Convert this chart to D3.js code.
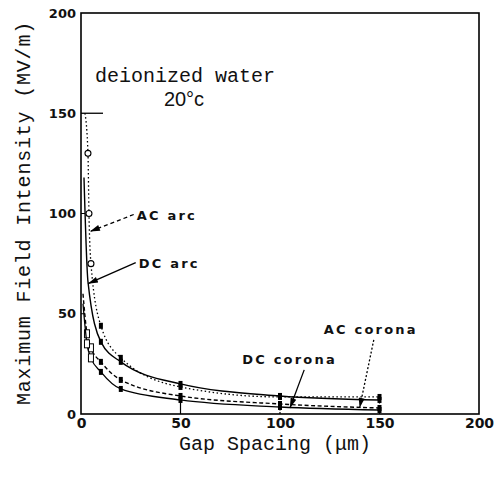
<!DOCTYPE html>
<html><head><meta charset="utf-8">
<script src="https://cdn.jsdelivr.net/npm/d3@7"></script>
<style>body{margin:0;background:#fff}svg{display:block}</style>
</head><body>
<script>
// ---- data ----
const xTicks = [0, 50, 100, 150, 200];
const yTicks = [0, 50, 100, 150, 200];
const acArcX = [2, 3.5, 4, 5, 10, 20, 50, 100, 150];
const acArcY = [150, 130, 100, 75, 44, 28, 13.5, 8.5, 8.5];
const dcArcX = [1.5, 3.5, 10, 20, 50, 100, 150];
const dcArcY = [118, 66, 36, 26, 15, 9, 7];
const acCoronaX = [1, 3, 5, 10, 20, 50, 100, 150];
const acCoronaY = [60, 40, 33, 26, 17, 9, 5, 3];
const dcCoronaX = [1, 3, 5, 10, 20, 50, 100, 150];
const dcCoronaY = [55, 35, 28, 21, 12.5, 7, 3.5, 2];
const seriesNames = ["AC arc", "DC arc", "AC corona", "DC corona"];
const labelX = [28, 29, 122, 81];
const labelY = [97, 73, 40, 25];
const arrowTipX = [4.5, 3.5, 140, 105];
const arrowTipY = [91, 65, 3, 3];

const W = 502, H = 481;
const svg = d3.select("body").append("svg").attr("width", W).attr("height", H);
const x = d3.scaleLinear().domain([0, 200]).range([81, 479]);
const y = d3.scaleLinear().domain([0, 200]).range([414, 13]);

const series = [
  {xs: acArcX, ys: acArcY, dash: "1.5,2.5", w: 1.3, open: "circle", openN: 4},
  {xs: dcArcX, ys: dcArcY, dash: null, w: 1.4, open: "none", openN: 2},
  {xs: acCoronaX, ys: acCoronaY, dash: "4,2.5", w: 1.4, open: "square", openN: 3},
  {xs: dcCoronaX, ys: dcCoronaY, dash: null, w: 1.3, open: "square", openN: 3}
];

// frame
svg.append("rect").attr("x", x(0)).attr("y", y(200)).attr("width", x(200) - x(0)).attr("height", y(0) - y(200))
  .attr("fill", "none").attr("stroke", "#000").attr("stroke-width", 1.6);

// axes
const xAxis = d3.axisBottom(x).tickValues(xTicks).tickSize(0).tickPadding(4);
const gx = svg.append("g").attr("transform", `translate(0,${y(0)})`).call(xAxis);
gx.select(".domain").remove();
gx.selectAll("text").attr("font-family", "DejaVu Sans").attr("font-weight", "bold").attr("font-size", 14).attr("fill", "#111");
const yAxis = d3.axisLeft(y).tickValues(yTicks).tickSize(0).tickPadding(5);
const gy = svg.append("g").attr("transform", `translate(${x(0)},0)`).call(yAxis);
gy.select(".domain").remove();
gy.selectAll("text").attr("font-family", "DejaVu Sans").attr("font-weight", "bold").attr("font-size", 13).attr("fill", "#111");

// inner ticks
[50, 100, 150].forEach(v => {
  svg.append("line").attr("x1", x(v)).attr("x2", x(v)).attr("y1", y(0)).attr("y2", y(0) - 20)
    .attr("stroke", "#000").attr("stroke-width", 1.2).attr("stroke-dasharray", v === 50 ? null : "2,1.5");
});
svg.append("line").attr("x1", x(0)).attr("x2", x(0) + 22).attr("y1", y(150)).attr("y2", y(150)).attr("stroke", "#000").attr("stroke-width", 1.3);
[50, 100].forEach(v => svg.append("line").attr("x1", x(0)).attr("x2", x(0) + 4).attr("y1", y(v)).attr("y2", y(v)).attr("stroke", "#000"));

// lines
const line = d3.line().x(d => x(d[0])).y(d => y(d[1])).curve(d3.curveMonotoneX);
series.forEach(s => {
  const pts = s.xs.map((v, i) => [v, s.ys[i]]);
  svg.append("path").attr("d", line(pts)).attr("fill", "none").attr("stroke", "#000")
    .attr("stroke-width", s.w).attr("stroke-dasharray", s.dash);
  pts.forEach((p, i) => {
    if (p[0] < 6 && s.open !== "none" && i < s.openN && i > 0) {
      if (s.open === "circle") {
        svg.append("circle").attr("cx", x(p[0])).attr("cy", y(p[1])).attr("r", 3)
          .attr("fill", "#fff").attr("stroke", "#000").attr("stroke-width", 1.1);
      } else {
        svg.append("rect").attr("x", x(p[0]) - 2.5).attr("y", y(p[1]) - 4).attr("width", 5).attr("height", 8)
          .attr("fill", "#fff").attr("stroke", "#000").attr("stroke-width", 1);
      }
    } else if (p[0] >= 10) {
      svg.append("rect").attr("x", x(p[0]) - 2).attr("y", y(p[1]) - 3).attr("width", 4).attr("height", 6).attr("fill", "#000");
    }
  });
});

// arrowheads
svg.append("defs").append("marker").attr("id", "ah").attr("viewBox", "0 0 10 6").attr("refX", 10).attr("refY", 3)
  .attr("markerWidth", 14).attr("markerHeight", 6).attr("markerUnits", "userSpaceOnUse").attr("orient", "auto")
  .append("path").attr("d", "M0,0 L10,3 L0,6 Z").attr("fill", "#000");

const arrowDash = ["4,3", null, "2,2", null];
seriesNames.forEach((n, i) => {
  const lx = x(labelX[i]), ly = y(labelY[i]);
  svg.append("text").attr("x", lx).attr("y", ly).text(n)
    .attr("font-family", "DejaVu Sans").attr("font-weight", "bold").attr("font-size", 13)
    .attr("letter-spacing", 2.2).attr("fill", "#111");
  const sx = i < 2 ? lx - 3 : (i === 2 ? lx + 50 : lx + 62);
  const sy = i < 2 ? ly - 5 : ly + 6;
  svg.append("line").attr("x1", sx).attr("y1", sy).attr("x2", x(arrowTipX[i])).attr("y2", y(arrowTipY[i]))
    .attr("stroke", "#000").attr("stroke-width", 1.3).attr("stroke-dasharray", arrowDash[i]).attr("marker-end", "url(#ah)");
});

// annotation
svg.append("text").attr("x", 95).attr("y", 82).text("deionized water")
  .attr("font-family", "Liberation Mono").attr("font-size", 20).attr("fill", "#111");
svg.append("text").attr("x", 184).attr("y", 106).attr("text-anchor", "middle").text("20°c")
  .attr("font-family", "Liberation Sans").attr("font-size", 20).attr("fill", "#111");

// axis titles
svg.append("text").attr("x", 275).attr("y", 450).attr("text-anchor", "middle").text("Gap  Spacing  (\u03bcm)")
  .attr("font-family", "Liberation Mono").attr("font-size", 20).attr("fill", "#111");
svg.append("text").attr("transform", `translate(30,213) rotate(-90)`).attr("text-anchor", "middle")
  .text("Maximum Field Intensity  (MV/m)")
  .attr("font-family", "Liberation Mono").attr("font-size", 20).attr("letter-spacing", 0.8).attr("fill", "#111");
</script>
</body></html>
